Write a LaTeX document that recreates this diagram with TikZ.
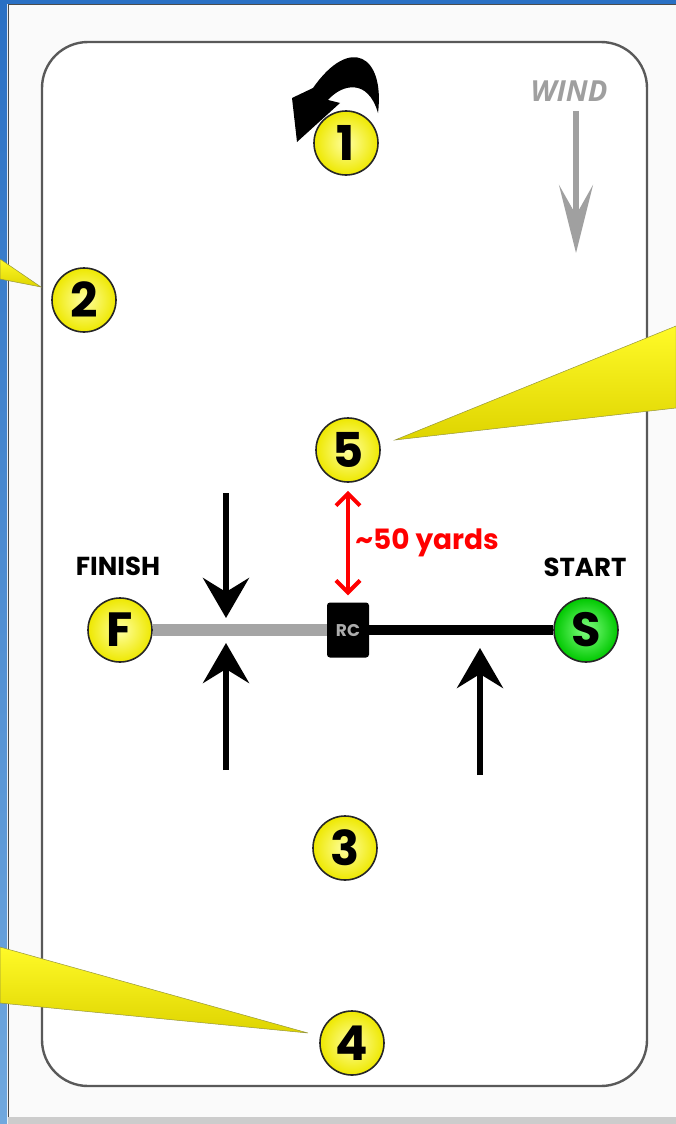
\documentclass[tikz,border=0pt]{standalone}
\usepackage{fontspec}
\setmainfont{Poppins}
\newfontfamily\windfont{Open Sans}
\usetikzlibrary{arrows.meta,positioning}

\definecolor{frameblue}{RGB}{42,112,196}
\definecolor{framelight}{RGB}{112,168,222}
\definecolor{buoyyellow}{RGB}{238,232,0}
\definecolor{buoylight}{RGB}{255,255,160}
\definecolor{buoygreen}{RGB}{0,200,0}
\definecolor{buoygreenlight}{RGB}{130,255,130}
\definecolor{linegray}{RGB}{165,165,165}
\definecolor{windgray}{RGB}{160,160,160}

\tikzset{
  buoy/.style={circle,draw=black!85,line width=1.6pt,minimum size=64pt,inner sep=0pt,
    inner color=buoylight,outer color=buoyyellow,font=\fontsize{48}{48}\selectfont\bfseries},
  startbuoy/.style={buoy,inner color=buoygreenlight,outer color=buoygreen},
  linelabel/.style={font=\fontsize{26}{26}\selectfont\bfseries},
  markarrow/.style={line width=6pt,-{Stealth[length=40pt,width=46pt,inset=14pt]}},
  callout/.style={draw={rgb,255:red,150;green,150;blue,60},line width=0.5pt,
    top color={rgb,255:red,255;green,250;blue,40},bottom color={rgb,255:red,222;green,212;blue,0}}
}

\begin{document}
\begin{tikzpicture}[x=1pt,y=-1pt]
  \useasboundingbox (0,0) rectangle (676,1124);
  % window frame
  \fill[white!96!gray] (0,0) rectangle (676,1124);
  \shade[top color=frameblue,bottom color=framelight] (0,0) rectangle (7,1124);
  \fill[frameblue] (0,0) rectangle (676,4);
  \draw[black!70,line width=1pt] (8,1124) -- (8,5) -- (676,5);
  \fill[gray!40] (8,1117) rectangle (676,1124);

  % course area
  \draw[line width=2.4pt,black!65,fill=white,rounded corners=46pt] (42,42) rectangle (647,1086);

  % callouts
  \shade[callout] (0,259) -- (41,287) -- (0,279) -- cycle;
  \shade[callout] (676,326) -- (395,440) -- (676,408) -- cycle;
  \shade[callout] (0,947) -- (308,1033) -- (0,1003) -- cycle;

  % marks
  \node[buoy] (one) at (346,143) {1};
  \node[buoy] (two) at (84,300) {2};
  \node[buoy] (five) at (348,450) {5};
  \node[buoy] (three) at (345,848) {3};
  \node[buoy] (four) at (352,1043) {4};
  \node[buoy] (finish) at (120,630) {F};
  \node[startbuoy] (start) at (586,630) {S};
  \node[fill=black,rounded corners=3pt,minimum width=42pt,minimum height=55pt,inner sep=0pt,
    text=gray!65,font=\fontsize{17}{17}\selectfont\bfseries] (rc) at (348,630) {RC};

  \node[linelabel] (finish-label) at (118,566) {FINISH};
  \node[linelabel] (start-label) at (585,567) {START};

  % finish and start lines
  \draw[linegray,line width=12pt] (finish.east) -- (rc.west);
  \draw[black,line width=10pt] (rc.east) -- (start.west);

  % distance to mark 5
  \draw[red,line width=4pt,{Straight Barb[length=12pt,width=24pt]}-{Straight Barb[length=12pt,width=24pt]},
    shorten <=8pt,shorten >=7pt] (five.south) -- node[right=2pt,text=red,font=\fontsize{28}{28}\selectfont\bfseries]
    {\textasciitilde50 yards} (rc.north);

  % approach arrows
  \draw[markarrow] (226,493) -- (226,618);
  \draw[markarrow] (226,770) -- (226,643);
  \draw[markarrow] (480,775) -- (480,648);

  % rounding direction at mark 1
  \fill[black] (378,113) .. controls (385,55) and (350,35) .. (313,88) -- (292,98) -- (297,142)
    -- (340,103) -- (328,100) .. controls (342,84) and (368,78) .. (378,113) -- cycle;

  % wind
  \node[text=gray!75,font=\windfont\fontsize{29}{29}\selectfont\bfseries\itshape] (wind) at (569,91) {WIND};
  \draw[windgray,line width=6pt,-{Stealth[length=68pt,width=34pt,inset=30pt]}] (wind.south) ++(7,6) -- (576,253);
\end{tikzpicture}
\end{document}
